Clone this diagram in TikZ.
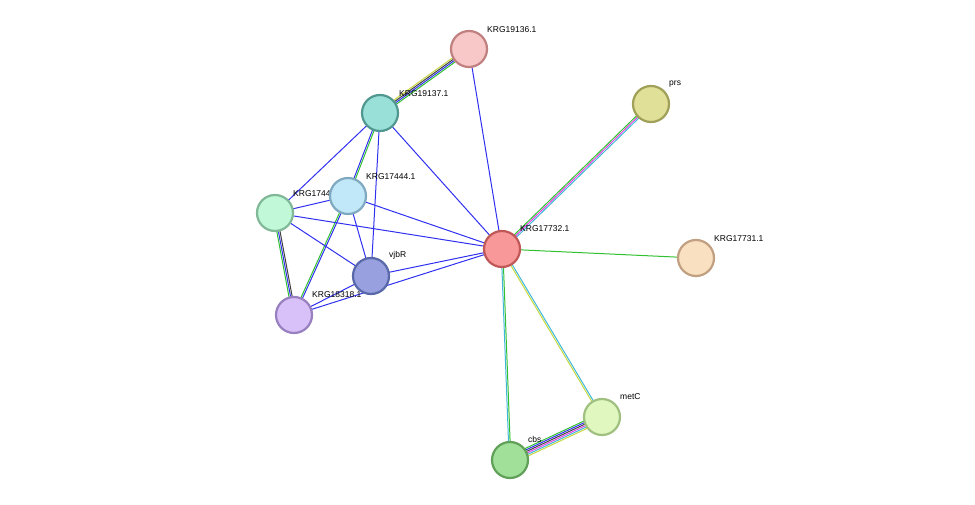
\documentclass[tikz,border=0pt]{standalone}
\usepackage{fontspec}
\setmainfont{Liberation Sans}
\usetikzlibrary{calc,backgrounds}

\definecolor{lgreen}{HTML}{30C030}
\definecolor{lblue}{HTML}{3030F0}
\definecolor{lblack}{HTML}{404040}
\definecolor{lyellow}{HTML}{C8D840}
\definecolor{lcyan}{HTML}{40B8D8}
\definecolor{lmagenta}{HTML}{E040E0}

% edge made of parallel coloured lines: from, to, count, colours
\newcommand\linkedge[4]{%
  \foreach \c [count=\i] in {#4}{%
    \pgfmathsetmacro\o{(\i-0.5*(#3+1))*1.6}
    \draw[link,\c] ($(#1)!\o pt!90:(#2)$) -- ($(#2)!\o pt!-90:(#1)$);
  }}

\begin{document}
\begin{tikzpicture}[x=1pt,y=-1pt,
    % protein nodes
    prot/.style 2 args={circle, line width=2.2pt,
        minimum size=36pt, inner sep=0pt,
        /utils/exec={\definecolor{pfill}{HTML}{#1}\definecolor{pdraw}{HTML}{#2}},
        fill=pfill, draw=pdraw},
    % labels
    plabel/.style={anchor=south west, inner sep=0pt, font=\fontsize{8.5}{10}\selectfont},
    link/.style={line width=1pt}
  ]
  \useasboundingbox (0,0) rectangle (975,505);

  % --- labels (under the nodes) ---
  \node[plabel] at (487,33) {KRG19136.1};
  \node[plabel] at (399,97) {KRG19137.1};
  \node[plabel] at (293,197) {KRG17443.1};
  \node[plabel] at (366,180) {KRG17444.1};
  \node[plabel] at (389,259) {vjbR};
  \node[plabel] at (312,298) {KRG18318.1};
  \node[plabel] at (520,232) {KRG17732.1};
  \node[plabel] at (669,87) {prs};
  \node[plabel] at (714,242) {KRG17731.1};
  \node[plabel] at (620,400) {metC};
  \node[plabel] at (528,443) {cbs};

  % --- nodes ---
  \node[prot={F8C8C8}{C08080}] (k19136) at (469,49) {};
  \node[prot={98E0D8}{509890}] (k19137) at (380,113) {};
  \node[prot={C0F8D8}{80B898}] (k17443) at (275,213) {};
  \node[prot={C0E8F8}{80A8C0}] (k17444) at (348,196) {};
  \node[prot={98A0E0}{5868A8}] (vjbR) at (371,276) {};
  \node[prot={D8C0F8}{9880C0}] (k18318) at (294,315) {};
  \node[prot={F89898}{C05858}] (k17732) at (502,249) {};
  \node[prot={E0E098}{A0A058}] (prs) at (651,104) {};
  \node[prot={F8E0C0}{C0A080}] (k17731) at (696,258) {};
  \node[prot={E0F8C0}{A0C080}] (metC) at (602,417) {};
  \node[prot={A0E098}{60A058}] (cbs) at (510,460) {};

  % --- edges ---
  \begin{scope}[on background layer]
    \linkedge{k19136}{k19137}{4}{lyellow,lblack,lblue,lgreen}
    \linkedge{k19136}{k17732}{1}{lblue}
    \linkedge{k19137}{k17444}{2}{lblue,lgreen}
    \linkedge{k19137}{k17443}{1}{lblue}
    \linkedge{k19137}{vjbR}{1}{lblue}
    \linkedge{k19137}{k17732}{1}{lblue}
    \linkedge{k17444}{k17443}{1}{lblue}
    \linkedge{k17444}{k17732}{1}{lblue}
    \linkedge{k17444}{vjbR}{1}{lblue}
    \linkedge{k17444}{k18318}{2}{lgreen,lblue}
    \linkedge{k17443}{k17732}{1}{lblue}
    \linkedge{k17443}{vjbR}{1}{lblue}
    \linkedge{k17443}{k18318}{3}{lgreen,lblue,lblack}
    \linkedge{vjbR}{k17732}{1}{lblue}
    \linkedge{k18318}{k17732}{1}{lblue}
    \linkedge{k18318}{vjbR}{1}{lblue}
    \linkedge{k17732}{prs}{3}{lcyan,lmagenta,lgreen}
    \linkedge{k17732}{k17731}{1}{lgreen}
    \linkedge{k17732}{cbs}{2}{lcyan,lgreen}
    \linkedge{k17732}{metC}{2}{lyellow,lcyan}
    \linkedge{metC}{cbs}{6}{lgreen,lblue,lblack,lmagenta,lcyan,lyellow}
  \end{scope}
\end{tikzpicture}
\end{document}
